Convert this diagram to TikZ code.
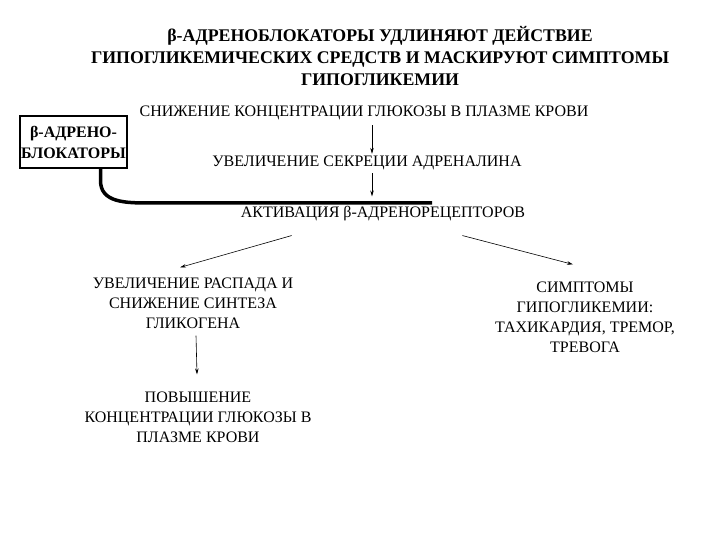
\documentclass[tikz,border=0pt]{standalone}
\usepackage{fontspec}
\setmainfont{Liberation Serif}
\usetikzlibrary{arrows.meta}

\begin{document}
\begin{tikzpicture}[x=1pt,y=-1pt,>={Stealth[length=6pt,width=3.5pt]}]
    \tikzstyle{every node}=[font=\fontsize{16}{20}\selectfont, inner sep=2pt]
    \tikzstyle{step text}=[align=center]
    \tikzstyle{title}=[align=center, font=\fontsize{17.8}{22}\selectfont\bfseries]
    \tikzstyle{drug box}=[draw, line width=1.2pt, align=center, minimum width=107pt, minimum height=52pt, inner sep=1pt, font=\fontsize{16}{21}\selectfont\bfseries]
    \tikzstyle{arr}=[->, line width=0.6pt]

    \useasboundingbox (0,0) rectangle (720,540);

%   heading
	\node[title] (head) at (380,56) {β-АДРЕНОБЛОКАТОРЫ УДЛИНЯЮТ ДЕЙСТВИЕ\\ГИПОГЛИКЕМИЧЕСКИХ СРЕДСТВ И МАСКИРУЮТ СИМПТОМЫ\\ГИПОГЛИКЕМИИ};

	\node[drug box] (blok) at (73.5,142) {β-АДРЕНО-\\БЛОКАТОРЫ};

	\node[step text] (gluc) at (364,113) {СНИЖЕНИЕ КОНЦЕНТРАЦИИ ГЛЮКОЗЫ В ПЛАЗМЕ КРОВИ};
	\node[step text] (adr) at (367,163) {УВЕЛИЧЕНИЕ СЕКРЕЦИИ АДРЕНАЛИНА};
	\node[step text] (aktiv) at (383,214) {АКТИВАЦИЯ β-АДРЕНОРЕЦЕПТОРОВ};

	\node[step text] (rasp) at (193,303) {УВЕЛИЧЕНИЕ РАСПАДА И\\СНИЖЕНИЕ СИНТЕЗА\\ГЛИКОГЕНА};
	\node[step text] (pov) at (198,417) {ПОВЫШЕНИЕ\\КОНЦЕНТРАЦИИ ГЛЮКОЗЫ В\\ПЛАЗМЕ КРОВИ};
	\node[step text] (simpt) at (585,317) {СИМПТОМЫ\\ГИПОГЛИКЕМИИ:\\ТАХИКАРДИЯ, ТРЕМОР,\\ТРЕВОГА};

	\coordinate (block end) at (432,203);

	\draw[arr] ([xshift=8pt,yshift=-3pt]gluc.south) -- ([xshift=5pt]adr.north);
	\draw[arr] ([xshift=5pt,yshift=-1pt]adr.south) -- ([xshift=-11pt,yshift=8pt]aktiv.north);
	\draw[arr] ([xshift=53pt,yshift=-12pt]aktiv.south west) -- ([xshift=-13pt,yshift=8pt]rasp.north);
	\draw[arr] ([xshift=-65pt,yshift=-12pt]aktiv.south east) -- ([xshift=-12pt,yshift=15pt]simpt.north);
	\draw[arr] ([xshift=3pt,yshift=-5pt]rasp.south) -- ([xshift=-1pt,yshift=15pt]pov.north);

	\draw[line width=3.5pt] ([xshift=27pt]blok.south) -- ++(0,12) .. controls ++(0,22) and ++(-25,0) .. (150,203) -- (block end);
\end{tikzpicture}
\end{document}
